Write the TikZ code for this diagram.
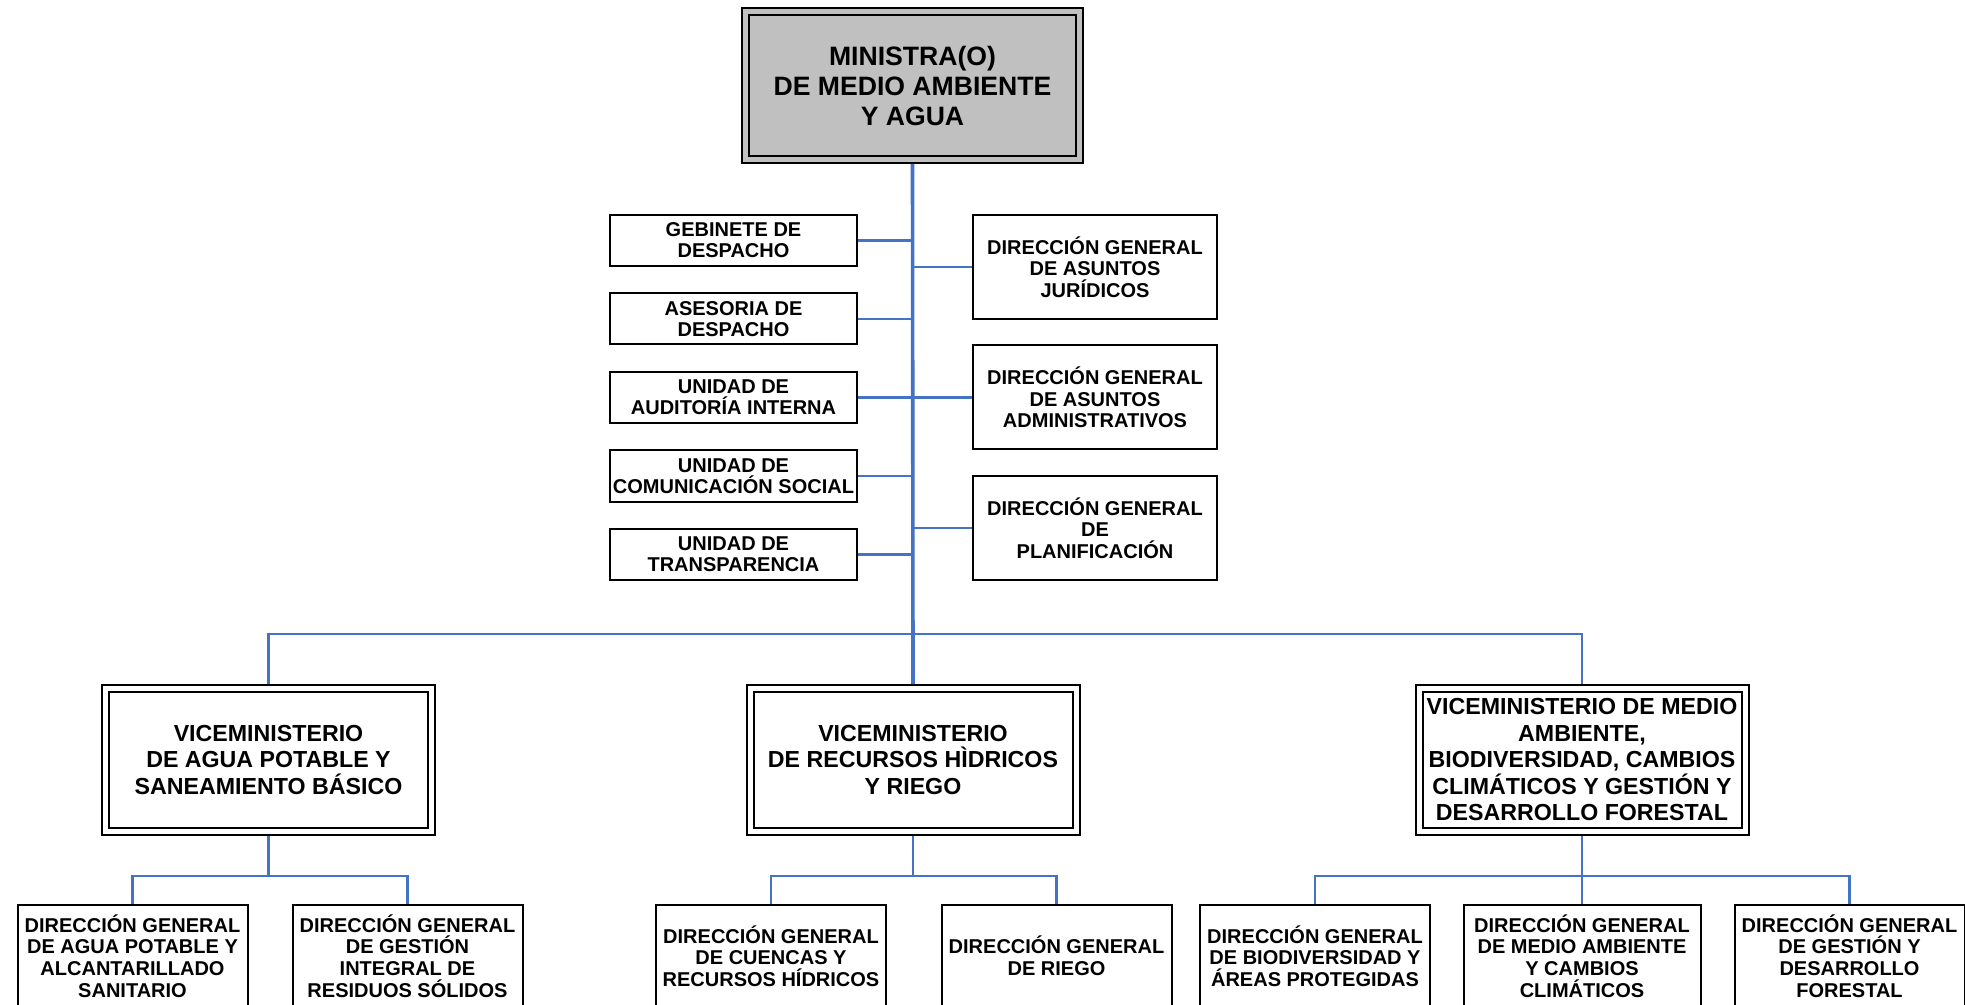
\documentclass[tikz,border=0pt]{standalone}
\usepackage{fontspec}
\setmainfont{Liberation Sans}
\definecolor{linkblue}{RGB}{68,114,196}
\definecolor{headgray}{RGB}{192,192,192}
\begin{document}
\begin{tikzpicture}[x=0.5pt,y=-0.5pt,
    box/.style={draw,line width=1pt,inner sep=0pt,outer sep=0.5pt,align=center},
    staffbox/.style={box,minimum width=123.5pt,minimum height=25.5pt,font=\fontsize{10}{10.4}\selectfont\bfseries},
    dirbox/.style={box,minimum width=122pt,minimum height=52pt,font=\fontsize{10}{10.65}\selectfont\bfseries},
    vicebox/.style={box,double,double distance=2.5pt,outer sep=2.25pt,minimum width=163pt,minimum height=71.25pt,font=\fontsize{11.6}{13.2}\selectfont\bfseries},
    unitbox/.style={box,minimum width=115pt,minimum height=51pt,font=\fontsize{10}{10.85}\selectfont\bfseries},
    link/.style={draw=linkblue,line width=1.2pt},
    trunk/.style={draw=linkblue,line width=1.8pt}]
  \useasboundingbox (0,0) rectangle (1965,1005);
  % ministra(o)
  \node[box,double=headgray,double distance=2.5pt,outer sep=2.25pt,fill=headgray,
        minimum width=167pt,minimum height=74pt,font=\fontsize{13.3}{15}\selectfont\bfseries]
        (mini) at (912.5,85.5) {MINISTRA(O)\\DE MEDIO AMBIENTE\\Y AGUA};
  % staff units, left
  \node[staffbox] (s1) at (733.5,240.5) {GEBINETE DE\\DESPACHO};
  \node[staffbox] (s2) at (733.5,319) {ASESORIA DE\\DESPACHO};
  \node[staffbox] (s3) at (733.5,397.5) {UNIDAD DE\\AUDITORÍA INTERNA};
  \node[staffbox] (s4) at (733.5,476) {UNIDAD DE\\COMUNICACIÓN SOCIAL};
  \node[staffbox] (s5) at (733.5,554.5) {UNIDAD DE\\TRANSPARENCIA};
  % staff units, right
  \node[dirbox] (d1) at (1095,267) {DIRECCIÓN GENERAL\\DE ASUNTOS\\JURÍDICOS};
  \node[dirbox] (d2) at (1095,397.5) {DIRECCIÓN GENERAL\\DE ASUNTOS\\ADMINISTRATIVOS};
  \node[dirbox] (d3) at (1095,528) {DIRECCIÓN GENERAL\\DE\\PLANIFICACIÓN};
  % viceministerios
  \node[vicebox] (vm1) at (268.5,759.75) {VICEMINISTERIO\\DE AGUA POTABLE Y\\SANEAMIENTO BÁSICO};
  \node[vicebox] (vm2) at (913,759.75) {VICEMINISTERIO\\DE RECURSOS HÌDRICOS\\Y RIEGO};
  \node[vicebox] (vm3) at (1582,759.75) {VICEMINISTERIO DE MEDIO\\AMBIENTE,\\BIODIVERSIDAD, CAMBIOS\\CLIMÁTICOS Y GESTIÓN Y\\DESARROLLO FORESTAL};
  % direcciones generales
  \node[unitbox] (c11) at (132.5,956) {DIRECCIÓN GENERAL\\DE AGUA POTABLE Y\\ALCANTARILLADO\\SANITARIO};
  \node[unitbox] (c12) at (407.5,956) {DIRECCIÓN GENERAL\\DE GESTIÓN\\INTEGRAL DE\\RESIDUOS SÓLIDOS};
  \node[unitbox] (c21) at (771,956) {DIRECCIÓN GENERAL\\DE CUENCAS Y\\RECURSOS HÍDRICOS};
  \node[unitbox] (c22) at (1056.5,956) {DIRECCIÓN GENERAL\\DE RIEGO};
  \node[unitbox] (c31) at (1315,956) {DIRECCIÓN GENERAL\\DE BIODIVERSIDAD Y\\ÁREAS PROTEGIDAS};
  \node[unitbox,minimum width=118.5pt] (c32) at (1582,956) {DIRECCIÓN GENERAL\\DE MEDIO AMBIENTE\\Y CAMBIOS\\CLIMÁTICOS};
  \node[unitbox] (c33) at (1849.5,956) {DIRECCIÓN GENERAL\\DE GESTIÓN Y\\DESARROLLO\\FORESTAL};
  % bus points
  \coordinate (bus) at (913,634);
  \coordinate (b1) at (268.5,876);
  \coordinate (b2) at (913,876);
  \coordinate (b3) at (1582,876);
  % connectors
  \draw[trunk] (mini.south) -- (vm2.north);
  \foreach \s in {s1,s2,s3,s4,s5}
    \draw[link] (\s.east) -- (\s.east -| mini.south);
  \foreach \d in {d1,d2,d3}
    \draw[link] (\d.west) -- (\d.west -| mini.south);
  \draw[link] (vm1.north) |- (bus) -| (vm3.north);
  \draw[link] (vm1.south) -- (b1);
  \draw[link] (c11.north) |- (b1) -| (c12.north);
  \draw[link] (vm2.south) -- (b2);
  \draw[link] (c21.north) |- (b2) -| (c22.north);
  \draw[link] (vm3.south) -- (b3);
  \draw[link] (c31.north) |- (b3) -| (c33.north);
  \draw[link] (b3) -- (c32.north);
\end{tikzpicture}
\end{document}
